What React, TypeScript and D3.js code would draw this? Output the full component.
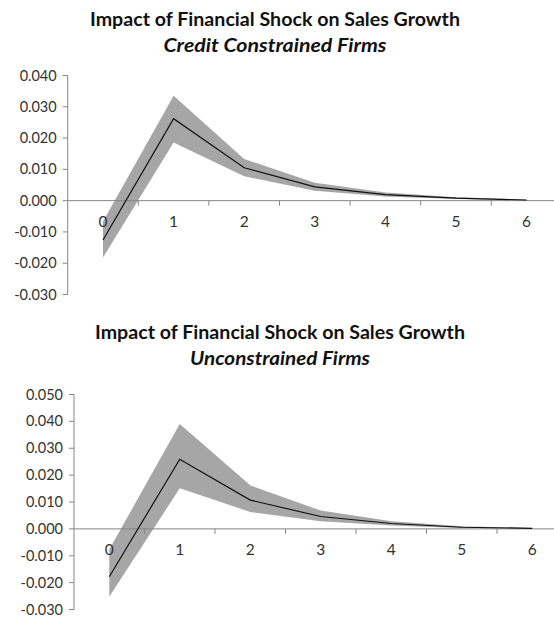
import React from "react";
import * as d3 from "d3";

const periods = ["0", "1", "2", "3", "4", "5", "6"];

const constrainedMean = [-0.0126, 0.0262, 0.0105, 0.0044, 0.0019, 0.0008, 0.0002];
const constrainedUpper = [-0.0067, 0.0335, 0.0133, 0.0057, 0.0026, 0.0011, 0.0003];
const constrainedLower = [-0.0182, 0.0186, 0.0078, 0.0032, 0.0013, 0.0005, 0.0001];
const constrainedTicks = [0.04, 0.03, 0.02, 0.01, 0, -0.01, -0.02, -0.03];

const unconstrainedMean = [-0.0178, 0.0259, 0.0107, 0.0046, 0.002, 0.0006, 0.0002];
const unconstrainedUpper = [-0.0077, 0.0390, 0.0162, 0.0068, 0.0028, 0.001, 0.0003];
const unconstrainedLower = [-0.0253, 0.0151, 0.0063, 0.0028, 0.0013, 0.0003, 0.0001];
const unconstrainedTicks = [0.05, 0.04, 0.03, 0.02, 0.01, 0, -0.01, -0.02, -0.03];

const titleMain = "Impact of Financial Shock on Sales Growth";
const subtitleTop = "Credit Constrained Firms";
const subtitleBottom = "Unconstrained Firms";

const FONT = "Lato, 'Open Sans', sans-serif";
const AXIS = "#868686";
const TEXT = "#333";

type PanelProps = {
  mean: number[];
  upper: number[];
  lower: number[];
  ticks: number[];
  yRange: [number, number];
  xLeft: number;
  step: number;
  title: string;
  subtitle: string;
  titleX: number;
  titleY: number;
  subtitleLen: number;
};

function Panel(p: PanelProps) {
  const dom = d3.extent(p.ticks) as [number, number];
  const y = d3.scaleLinear().domain(dom).range(p.yRange);
  const x = d3
    .scaleBand<string>()
    .domain(periods)
    .range([p.xLeft, p.xLeft + p.step * periods.length])
    .paddingInner(0)
    .paddingOuter(0);
  const cx = (d: string) => (x(d) as number) + x.bandwidth() / 2;

  const area = d3
    .area<number>()
    .x((_, i) => cx(periods[i]))
    .y0((_, i) => y(p.lower[i]))
    .y1((_, i) => y(p.upper[i]));
  const line = d3
    .line<number>()
    .x((_, i) => cx(periods[i]))
    .y((d) => y(d));

  const fmt = (v: number) => d3.format(".3f")(v).replace("\u2212", "-");
  const y0 = y(0);
  return (
    <g>
      <text
        x={p.titleX}
        y={p.titleY}
        textAnchor="middle"
        fontFamily={FONT}
        fontWeight="bold"
        fontSize={18.5}
        fill="#111"
        textLength={370}
        lengthAdjust="spacingAndGlyphs"
      >
        {p.title}
      </text>
      <text
        x={p.titleX}
        y={p.titleY + 26}
        textAnchor="middle"
        fontFamily={FONT}
        fontWeight="bold"
        fontStyle="italic"
        fontSize={18.5}
        fill="#111"
        textLength={p.subtitleLen}
        lengthAdjust="spacingAndGlyphs"
      >
        {p.subtitle}
      </text>
      <path d={area(p.mean) || ""} fill="#a6a6a6" />
      <line x1={p.xLeft} x2={p.xLeft} y1={y(dom[1])} y2={y(dom[0])} stroke={AXIS} strokeWidth={1} />
      {p.ticks.map((t) => (
        <g key={t}>
          <line x1={p.xLeft - 5} x2={p.xLeft} y1={y(t)} y2={y(t)} stroke={AXIS} strokeWidth={1} />
          <text
            x={p.xLeft - 11}
            y={y(t)}
            dy="0.35em"
            textAnchor="end"
            fontFamily={FONT}
            fontSize={14.5}
            fill={TEXT}
          >
            {fmt(t)}
          </text>
        </g>
      ))}
      <line x1={p.xLeft} x2={p.xLeft + p.step * periods.length} y1={y0} y2={y0} stroke={AXIS} strokeWidth={1} />
      {periods.map((c, i) => (
        <g key={c}>
          {i > 0 && (
            <line x1={x(c) as number} x2={x(c) as number} y1={y0} y2={y0 + 5} stroke={AXIS} strokeWidth={1} />
          )}
          <text
            x={cx(c)}
            y={y0 + 21}
            dy="0.35em"
            textAnchor="middle"
            fontFamily={FONT}
            fontSize={15.5}
            fill={TEXT}
          >
            {c}
          </text>
        </g>
      ))}
      <path d={line(p.mean) || ""} fill="none" stroke="#111" strokeWidth={1.2} />
    </g>
  );
}

export default function App() {
  return (
    <svg
      width={554}
      height={620}
      style={{ position: "absolute", left: 0, top: 0, background: "#fff" }}
    >
      <rect width={554} height={620} fill="#fff" />
      <Panel
        mean={constrainedMean}
        upper={constrainedUpper}
        lower={constrainedLower}
        ticks={constrainedTicks}
        yRange={[294.5, 75.5]}
        xLeft={67.7}
        step={70.6}
        title={titleMain}
        subtitle={subtitleTop}
        titleX={275}
        titleY={26}
        subtitleLen={223}
      />
      <Panel
        mean={unconstrainedMean}
        upper={unconstrainedUpper}
        lower={unconstrainedLower}
        ticks={unconstrainedTicks}
        yRange={[609.5, 394.5]}
        xLeft={74}
        step={70.5}
        title={titleMain}
        subtitle={subtitleBottom}
        titleX={280}
        titleY={339}
        subtitleLen={180}
      />
    </svg>
  );
}
